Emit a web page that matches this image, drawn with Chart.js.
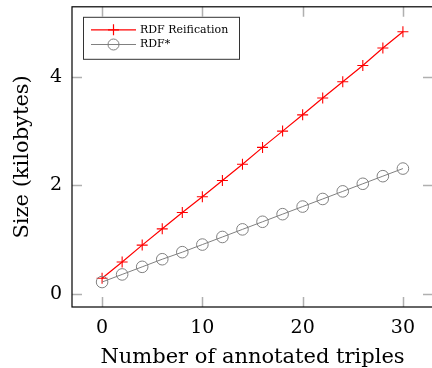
<!DOCTYPE html>
<html>
<head>
<meta charset="utf-8">
<script src="https://cdn.jsdelivr.net/npm/chart.js@4/dist/chart.umd.min.js"></script>
<style>
  html, body { margin: 0; padding: 0; background: #fff; overflow: hidden; }
  #wrap { width: 440px; height: 368px; }
</style>
</head>
<body>
<div id="wrap"><canvas id="myChart"></canvas></div>
<script>
// datos
const triples = [0, 2, 4, 6, 8, 10, 12, 14, 16, 18, 20, 22, 24, 26, 28, 30];
const reificacion = [0.29, 0.59, 0.90, 1.20, 1.50, 1.79, 2.09, 2.39, 2.70, 3.00, 3.30, 3.61, 3.91, 4.21, 4.53, 4.83];
const rdfStar = [0.22, 0.36, 0.50, 0.64, 0.77, 0.91, 1.05, 1.19, 1.33, 1.47, 1.61, 1.75, 1.89, 2.03, 2.17, 2.31];
const xTicks = [0, 10, 20, 30];
const yTicks = [0, 2, 4];

const serif = "'DejaVu Serif', 'Liberation Serif', serif";

// marco y marcas hacia adentro (estilo pgfplots)
const marcoPlugin = {
    id: 'marco',
    afterDatasetsDraw(chart) {
        const { ctx, chartArea: a, scales } = chart;
        const len = 10;
        ctx.save();
        ctx.strokeStyle = '#b0b0b0';
        ctx.lineWidth = 1.5;
        ctx.beginPath();
        xTicks.forEach(v => {
            const px = Math.round(scales.x.getPixelForValue(v)) + 0.5;
            ctx.moveTo(px, a.bottom); ctx.lineTo(px, a.bottom - len);
            ctx.moveTo(px, a.top); ctx.lineTo(px, a.top + len);
        });
        yTicks.forEach(v => {
            const py = Math.round(scales.y.getPixelForValue(v)) + 0.5;
            ctx.moveTo(a.left, py); ctx.lineTo(a.left + len, py);
            ctx.moveTo(a.right, py); ctx.lineTo(a.right - len, py);
        });
        ctx.stroke();
        ctx.strokeStyle = '#000';
        ctx.lineWidth = 1.2;
        ctx.strokeRect(a.left, a.top, a.right - a.left, a.bottom - a.top);
        ctx.restore();
    },
    afterDraw(chart) {
        // leyenda dentro del area
        const { ctx, chartArea: a } = chart;
        const x0 = a.left + 11, y0 = a.top + 10;
        const w = 156, h = 42;
        ctx.save();
        ctx.fillStyle = '#fff';
        ctx.fillRect(x0, y0, w, h);
        ctx.strokeStyle = '#333';
        ctx.lineWidth = 1;
        ctx.strokeRect(x0 + 0.5, y0 + 0.5, w, h);
        chart.data.datasets.forEach((ds, i) => {
            const yy = y0 + 13 + i * 14.7;
            const lx = x0 + 8;
            ctx.strokeStyle = ds.borderColor;
            ctx.lineWidth = ds.borderWidth;
            ctx.beginPath();
            ctx.moveTo(lx, yy); ctx.lineTo(lx + 45, yy);
            ctx.stroke();
            const cx = lx + 22.5;
            ctx.beginPath();
            if (ds.pointStyle === 'cross') {
                ctx.moveTo(cx - 5.5, yy); ctx.lineTo(cx + 5.5, yy);
                ctx.moveTo(cx, yy - 5.5); ctx.lineTo(cx, yy + 5.5);
            } else {
                ctx.arc(cx, yy, 5.5, 0, Math.PI * 2);
            }
            ctx.stroke();
            ctx.fillStyle = '#000';
            ctx.font = "11px " + serif;
            ctx.textBaseline = 'middle';
            ctx.fillText(ds.label, lx + 49, yy);
        });
        ctx.restore();
    }
};

const sinPadding = s => { s.paddingTop = 0; s.paddingBottom = 0; s.paddingLeft = 0; s.paddingRight = 0; };

const ctx = document.getElementById('myChart').getContext('2d');
const myChart = new Chart(ctx, {
    type: 'line',
    data: {
        datasets: [
            {
                label: 'RDF Reification',
                data: triples.map((t, i) => ({ x: t, y: reificacion[i] })),
                borderColor: '#ff0000',
                backgroundColor: 'transparent',
                borderWidth: 1.2,
                pointStyle: 'cross',
                pointRadius: 5.5,
                pointBorderWidth: 1.1,
                pointBorderColor: '#ff0000',
                tension: 0,
                order: 1
            },
            {
                label: 'RDF*',
                data: triples.map((t, i) => ({ x: t, y: rdfStar[i] })),
                borderColor: '#808080',
                backgroundColor: 'transparent',
                borderWidth: 1,
                pointStyle: 'circle',
                pointRadius: 5.8,
                pointBorderWidth: 1,
                pointBorderColor: '#808080',
                pointBackgroundColor: 'transparent',
                tension: 0,
                order: 0
            }
        ]
    },
    options: {
        responsive: true,
        maintainAspectRatio: false,
        animation: false,
        layout: { padding: { top: 6, right: 7, left: 0, bottom: 0 } },
        plugins: { legend: { display: false }, tooltip: { enabled: false } },
        scales: {
            x: {
                type: 'linear',
                min: -3,
                max: 33,
                afterBuildTicks: s => { s.ticks = xTicks.map(v => ({ value: v })); },
                afterFit: s => { s.height = 61; sinPadding(s); },
                grid: { display: false, drawTicks: false },
                border: { display: false },
                ticks: { color: '#000', padding: 10, maxRotation: 0, font: { family: serif, size: 19 } },
                title: { display: true, text: 'Number of annotated triples', color: '#000', padding: { top: 0, bottom: 0 }, font: { family: serif, size: 21, lineHeight: 1 } }
            },
            y: {
                type: 'linear',
                min: -0.24,
                max: 5.29,
                afterBuildTicks: s => { s.ticks = yTicks.map(v => ({ value: v })); },
                afterFit: s => { s.width = 72; sinPadding(s); },
                grid: { display: false, drawTicks: false },
                border: { display: false },
                ticks: { color: '#000', padding: 10, font: { family: serif, size: 19 } },
                title: { display: true, text: 'Size (kilobytes)', color: '#000', padding: { top: 10, bottom: 0 }, font: { family: serif, size: 21 } }
            }
        }
    },
    plugins: [marcoPlugin]
});
</script>
</body>
</html>
